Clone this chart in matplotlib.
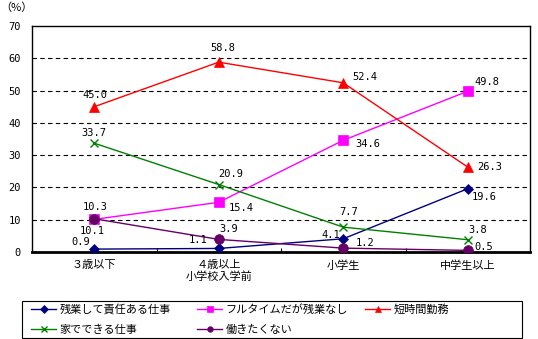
import matplotlib
matplotlib.use("Agg")
import matplotlib.pyplot as plt
from matplotlib.patches import Rectangle

plt.rcParams['font.family'] = ['Noto Sans CJK JP', 'DejaVu Sans']
NUMFONT = ['DejaVu Sans Mono']

categories = ['３歳以下', '４歳以上\n小学校入学前', '小学生', '中学生以上']
series_names = ['残業して責任ある仕事', 'フルタイムだが残業なし', '短時間勤務', '家でできる仕事', '働きたくない']
s_overtime = [0.9, 1.1, 4.1, 19.6]
s_fulltime = [10.1, 15.4, 34.6, 49.8]
s_short = [45.0, 58.8, 52.4, 26.3]
s_home = [33.7, 20.9, 7.7, 3.8]
s_none = [10.3, 3.9, 1.2, 0.5]
yticks = [0, 10, 20, 30, 40, 50, 60, 70]

series = [s_overtime, s_fulltime, s_short, s_home, s_none]
colors = ['#000080', '#ff00ff', '#ff0000', '#008000', '#660066']
markers = ['D', 's', '^', 'x', 'o']
msizes = [5, 7, 7, 6, 7]

# label offsets in pixels (dx, dy, ha)
offsets = [
    [(-14, 7, 'center'), (-11, 8, 'right'), (-3, 4, 'right'), (4, -8, 'left')],
    [(-2, -12, 'center'), (10, -6, 'left'), (12, -4, 'left'), (7, 9, 'left')],
    [(1, 12, 'center'), (4, 14, 'center'), (9, 6, 'left'), (9, 0, 'left')],
    [(0, 10, 'center'), (12, 11, 'center'), (5, 15, 'center'), (10, 10, 'center')],
    [(1, 12, 'center'), (10, 10, 'center'), (12, 5, 'left'), (7, 3, 'left')],
]

fig = plt.figure(figsize=(5.38, 3.39), dpi=100)
ax = fig.add_axes([32/538, 1-252/339, 498/538, 226/339])
x = list(range(len(categories)))

handles = []
for i, (vals, c, m, ms) in enumerate(zip(series, colors, markers, msizes)):
    ln, = ax.plot(x, vals, color=c, marker=m, markersize=ms, linewidth=1,
                  markeredgecolor=c, markerfacecolor=c, markeredgewidth=1 if m == 'x' else 0.5,
                  label=series_names[i], zorder=3)
    handles.append(ln)
    for j, v in enumerate(vals):
        dx, dy, ha = offsets[i][j]
        ax.annotate(f'{v:.1f}', (j, v), xytext=(dx*0.72, dy*0.72), textcoords='offset points',
                    ha=ha, va='center', fontsize=7.5, color='black', zorder=4, family=NUMFONT)

ax.set_xlim(-0.5, 3.5)
ax.set_ylim(0, 70)
ax.set_yticks(yticks)
ax.set_yticklabels([str(t) for t in yticks], fontsize=7.5, family=NUMFONT)
ax.tick_params(axis='y', length=0, pad=8)
ax.set_xticks(x)
ax.set_xticklabels(categories, fontsize=8, linespacing=1.1)
ax.tick_params(axis='x', which='major', length=0, pad=6)
ax.set_xticks([0.5, 1.5, 2.5], minor=True)
ax.tick_params(axis='x', which='minor', length=3, direction='in', width=0.8)
for t in yticks[1:-1]:
    ax.axhline(t, color='black', linestyle=(0, (4, 3)), linewidth=0.8, zorder=1)
for s in ax.spines.values():
    s.set_color('black')
    s.set_linewidth(1)
ax.spines['bottom'].set_linewidth(2)

fig.text(0/538, 1-8/339, '（%）', fontsize=8, va='center', ha='left')

# legend frame
fig.add_artist(Rectangle((22/538, 1/339), 500/538, 37/339, transform=fig.transFigure,
                         fill=False, edgecolor='black', linewidth=0.8))
cols = [[0, 3], [1, 4], [2]]
col_x = [28, 194, 362]
for cx, idxs in zip(col_x, cols):
    leg = fig.legend([handles[k] for k in idxs], [series_names[k] for k in idxs],
                     loc='upper left', bbox_to_anchor=(cx/538, 1-301/339),
                     fontsize=8, frameon=False, handlelength=2.25, handletextpad=0.3,
                     borderpad=0.28, labelspacing=0.9, borderaxespad=0)
    for h in leg.legend_handles:
        h.set_markersize(4)

fig.savefig('out.png', dpi=100)
